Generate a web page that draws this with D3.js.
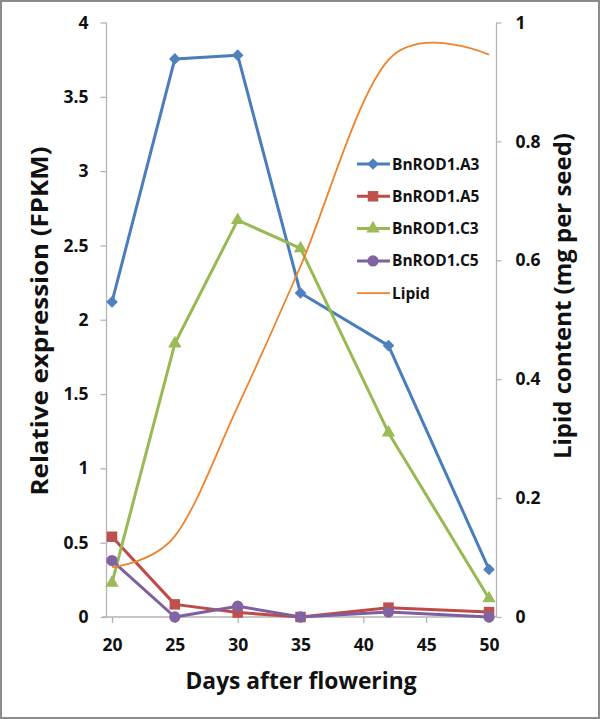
<!DOCTYPE html>
<html>
<head>
<meta charset="utf-8">
<script src="https://cdn.jsdelivr.net/npm/d3@7"></script>
<style>
  html, body { margin: 0; padding: 0; background: #fff; }
  svg { display: block; }
  text { font-family: "Open Sans", "DejaVu Sans", sans-serif; font-weight: 700; fill: #111; }
</style>
</head>
<body>
<svg id="chart" width="600" height="719"></svg>
<script>
// ---------- data ----------
const days = [20, 25, 30, 35, 42, 50];
const seriesNames = ["BnROD1.A3", "BnROD1.A5", "BnROD1.C3", "BnROD1.C5"];
const a3 = [2.12, 3.755, 3.78, 2.18, 1.826, 0.32];
const a5 = [0.54, 0.085, 0.03, 0.0, 0.063, 0.033];
const c3 = [0.23, 1.84, 2.67, 2.48, 1.24, 0.125];
const c5 = [0.38, 0.0, 0.073, 0.0, 0.033, 0.0];
const lipid = [0.084, 0.136, 0.354, 0.59, 0.937, 0.946];
const xTicks = [20, 25, 30, 35, 40, 45, 50];
const yLeftTicks = [0, 0.5, 1, 1.5, 2, 2.5, 3, 3.5, 4];
const yRightTicks = [0, 0.2, 0.4, 0.6, 0.8, 1];
const lipidName = "Lipid";
const xTitle = "Days after flowering";
const yLeftTitle = "Relative expression (FPKM)";
const yRightTitle = "Lipid content (mg per seed)";

// ---------- layout ----------
const svg = d3.select("#chart");
const W = 600, H = 719;
const plotLeft = 106.5, plotRight = 496.5, plotTop = 22.5, plotBottom = 617;

svg.append("rect").attr("x", 1).attr("y", 1).attr("width", W - 2).attr("height", H - 2)
  .attr("fill", "#fff").attr("stroke", "#8c8c8c").attr("stroke-width", 2);

const x = d3.scaleLinear().domain([20, 50]).range([112, 489]);
const yL = d3.scaleLinear().domain([0, 4]).range([plotBottom, plotTop]);
const yR = d3.scaleLinear().domain([0, 1]).range([plotBottom, plotTop]);

const axisColor = "#b5b5b5";

// left axis
const gL = svg.append("g").attr("transform", `translate(${plotLeft},0)`)
  .call(d3.axisLeft(yL).tickValues(yLeftTicks).tickSize(6).tickPadding(12).tickFormat(d3.format("")));
// right axis
const gR = svg.append("g").attr("transform", `translate(${plotRight},0)`)
  .call(d3.axisRight(yR).tickValues(yRightTicks).tickSize(5).tickPadding(14).tickFormat(d3.format("")));
// bottom axis
const gB = svg.append("g").attr("transform", `translate(0,${plotBottom})`)
  .call(d3.axisBottom(x).tickValues(xTicks).tickSize(6).tickPadding(16).tickFormat(d3.format("")));

[gL, gR, gB].forEach(g => {
  g.select(".domain").remove();
  g.selectAll(".tick line").attr("stroke", axisColor).attr("stroke-width", 1.3);
  g.selectAll(".tick text").style("font-size", "17.5px").style("font-family", '"Open Sans", sans-serif')
    .style("font-weight", 700).attr("fill", "#111");
});
gB.selectAll(".tick text").attr("dy", "0.71em");

// axis lines
svg.append("line").attr("x1", plotLeft).attr("x2", plotLeft).attr("y1", plotTop).attr("y2", plotBottom)
  .attr("stroke", axisColor).attr("stroke-width", 1.3);
svg.append("line").attr("x1", plotRight).attr("x2", plotRight).attr("y1", plotTop).attr("y2", plotBottom)
  .attr("stroke", axisColor).attr("stroke-width", 1.3);
svg.append("line").attr("x1", plotLeft - 4).attr("x2", plotRight).attr("y1", plotBottom).attr("y2", plotBottom)
  .attr("stroke", axisColor).attr("stroke-width", 1.3);

// ---------- series ----------
const series = [
  { name: seriesNames[0], values: a3, color: "#4A7EBB", fill: "#4F81BD", shape: "diamond" },
  { name: seriesNames[1], values: a5, color: "#BE4B48", fill: "#C0504D", shape: "square" },
  { name: seriesNames[2], values: c3, color: "#98B954", fill: "#9BBB59", shape: "triangle" },
  { name: seriesNames[3], values: c5, color: "#7D60A0", fill: "#8064A2", shape: "circle" }
];

function symbolPath(shape) {
  if (shape === "diamond") return d3.symbol().type(d3.symbolSquare).size(68)();
  if (shape === "square") return d3.symbol().type(d3.symbolSquare).size(110)();
  if (shape === "triangle") return d3.symbol().type(d3.symbolTriangle).size(78)();
  return d3.symbol().type(d3.symbolCircle).size(100)();
}
function symbolRot(shape) { return shape === "diamond" ? 45 : 0; }

const line = d3.line().x((d, i) => x(days[i])).y(d => yL(d));

series.forEach(s => {
  svg.append("path").datum(s.values).attr("d", line)
    .attr("fill", "none").attr("stroke", s.color).attr("stroke-width", 3).attr("stroke-linejoin", "round");
  svg.append("g").selectAll("path").data(s.values).join("path")
    .attr("d", symbolPath(s.shape))
    .attr("transform", (d, i) => `translate(${x(days[i])},${yL(d)}) rotate(${symbolRot(s.shape)})`)
    .attr("fill", s.fill);
});

// lipid smooth line
const lipidLine = d3.line().x((d, i) => x(days[i])).y(d => yR(d)).curve(d3.curveCardinal);
const lipidColor = "#F0822A";
svg.append("path").datum(lipid).attr("d", lipidLine)
  .attr("fill", "none").attr("stroke", lipidColor).attr("stroke-width", 1.8);

// ---------- legend ----------
const legY0 = 164, legStep = 32.3;
const lx1 = 357, lx2 = 390, lmx = 373, ltx = 392;
series.forEach((s, i) => {
  const yy = legY0 + i * legStep;
  svg.append("line").attr("x1", lx1).attr("x2", lx2).attr("y1", yy).attr("y2", yy)
    .attr("stroke", s.color).attr("stroke-width", 3);
  svg.append("path").attr("d", symbolPath(s.shape))
    .attr("transform", `translate(${lmx},${yy}) rotate(${symbolRot(s.shape)})`).attr("fill", s.fill);
  svg.append("text").attr("x", ltx).attr("y", yy).attr("dy", "0.36em")
    .style("font-size", "15.5px").text(s.name);
});
{
  const yy = legY0 + 4 * legStep;
  svg.append("line").attr("x1", lx1).attr("x2", lx2).attr("y1", yy).attr("y2", yy)
    .attr("stroke", lipidColor).attr("stroke-width", 1.8);
  svg.append("text").attr("x", ltx).attr("y", yy).attr("dy", "0.36em")
    .style("font-size", "15.5px").text(lipidName);
}

// ---------- titles ----------
svg.append("text").attr("x", 301).attr("y", 689).attr("text-anchor", "middle")
  .style("font-size", "24px").attr("textLength", 231).attr("lengthAdjust", "spacingAndGlyphs").text(xTitle);
svg.append("text").attr("transform", "translate(48,321) rotate(-90)").attr("text-anchor", "middle")
  .style("font-size", "23px").attr("textLength", 349).attr("lengthAdjust", "spacingAndGlyphs").text(yLeftTitle);
svg.append("text").attr("transform", "translate(571,296) rotate(-90)").attr("text-anchor", "middle")
  .style("font-size", "23px").attr("textLength", 326).attr("lengthAdjust", "spacingAndGlyphs").text(yRightTitle);
</script>
</body>
</html>
